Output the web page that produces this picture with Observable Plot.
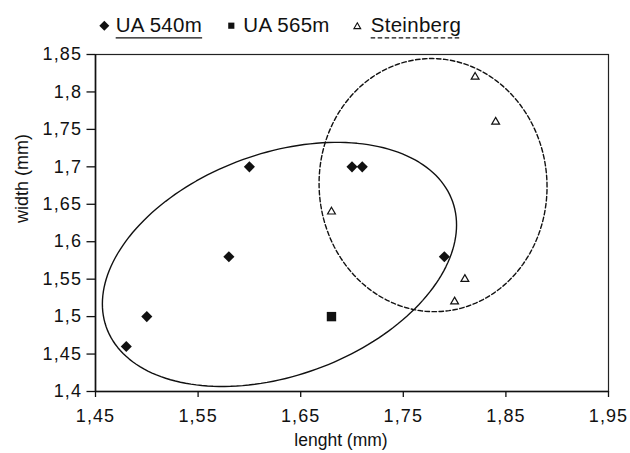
<!DOCTYPE html>
<html>
<head>
<meta charset="utf-8">
<script src="https://cdn.jsdelivr.net/npm/d3@7"></script>
<script src="https://cdn.jsdelivr.net/npm/@observablehq/plot@0.6"></script>
<style>
  html, body { margin: 0; padding: 0; background: #fff; }
  #wrap { position: relative; width: 630px; height: 453px; font-family: "Liberation Sans", Arial, Helvetica, sans-serif; }
  #legend { position: relative; width: 630px; height: 40px; }
  #chart svg { display: block; }
  #chart g[aria-label="x-axis tick label"], #chart g[aria-label="y-axis tick label"] { font-size: 18px !important; }
  #chart g[aria-label="x-axis tick label"] text, #chart g[aria-label="y-axis tick label"] text { letter-spacing: 1.1px; font-size: 18px !important; }
</style>
</head>
<body>
<div id="wrap">
  <div id="legend"></div>
  <div id="chart"></div>
</div>
<script>
// ---- data ----
const ua540Length = [1.48, 1.50, 1.58, 1.60, 1.70, 1.71, 1.79];
const ua540Width  = [1.46, 1.50, 1.58, 1.70, 1.70, 1.70, 1.58];
const ua565Length = [1.68];
const ua565Width  = [1.50];
const steinLength = [1.68, 1.82, 1.84, 1.81, 1.80];
const steinWidth  = [1.64, 1.82, 1.76, 1.55, 1.52];
const seriesNames = ["UA 540m", "UA 565m", "Steinberg"];
const xTicks = [1.45, 1.55, 1.65, 1.75, 1.85, 1.95];
const yTicks = [1.4, 1.45, 1.5, 1.55, 1.6, 1.65, 1.7, 1.75, 1.8, 1.85];
const xTitle = "lenght (mm)";
const yTitle = "width (mm)";
// grouping ellipses: center, conjugate semi-axes (data units)
const ellipseSolid  = {cx: 1.6293, cy: 1.5697, ux: 0.1726, uy: 0.0527, vx: 0, vy: 0.1542};
const ellipseDashed = {cx: 1.779, cy: 1.6756, ux: 0.1111, uy: -0.0022, vx: 0, vy: 0.1690};

const ua540 = ua540Length.map((x, i) => ({x, y: ua540Width[i]}));
const ua565 = ua565Length.map((x, i) => ({x, y: ua565Width[i]}));
const stein = steinLength.map((x, i) => ({x, y: steinWidth[i]}));

function ellipsePoints(e) {
  const n = 180;
  return d3.range(n + 1).map(k => {
    const t = 2 * Math.PI * k / n;
    return {x: e.cx + e.ux * Math.cos(t) + e.vx * Math.sin(t),
            y: e.cy + e.uy * Math.cos(t) + e.vy * Math.sin(t)};
  });
}
const fmt = d => d.toFixed(2).replace(/0$/, "").replace(".", ",");

const chart = Plot.plot({
  width: 630,
  height: 413,
  marginLeft: 95,
  marginRight: 22,
  marginTop: 14,
  marginBottom: 62,
  style: {fontFamily: '"Liberation Sans", Arial, Helvetica, sans-serif', fontSize: "18px", color: "#111", background: "#fff"},
  x: {domain: [1.45, 1.95]},
  y: {domain: [1.4, 1.85]},
  marks: [
    Plot.frame({stroke: "#222", strokeWidth: 1.2}),
    Plot.ruleX([1.45], {stroke: "#111", strokeWidth: 1.6}),
    Plot.ruleY([1.4], {stroke: "#111", strokeWidth: 1.6}),
    Plot.axisX({ticks: xTicks, tickFormat: fmt, tickSize: 6, tickPadding: 12, label: null, strokeWidth: 1.3, fontSize: 18}),
    Plot.axisY({ticks: yTicks, tickFormat: fmt, tickSize: 8.5, tickPadding: 5, label: null, strokeWidth: 1.3, fontSize: 18}),
    Plot.text([xTitle], {frameAnchor: "bottom", text: d => d, lineAnchor: "top", dy: 42, dx: -11, fontSize: 17.5, fill: "#111"}),
    Plot.text([yTitle], {frameAnchor: "left", text: d => d, rotate: -90, lineAnchor: "top", dx: -80, fontSize: 18, fill: "#111", style: {letterSpacing: "0.8px"}}),
    Plot.line(ellipsePoints(ellipseSolid), {x: "x", y: "y", stroke: "#111", strokeWidth: 1.4}),
    Plot.line(ellipsePoints(ellipseDashed), {x: "x", y: "y", stroke: "#111", strokeWidth: 1.4, strokeDasharray: "4.5,2.5"}),
    Plot.dot(ua540, {x: "x", y: "y", symbol: "diamond2", r: 5, fill: "#111"}),
    Plot.dot(ua565, {x: "x", y: "y", symbol: "square", r: 5.3, fill: "#111"}),
    Plot.dot(stein, {x: "x", y: "y", symbol: "triangle", r: 2.9, fill: "#fff", stroke: "#111", strokeWidth: 1.2})
  ]
});
document.getElementById("chart").appendChild(chart);

// ---- legend ----
const lg = d3.select("#legend").append("svg").attr("width", 630).attr("height", 40)
  .style("font-family", '"Liberation Sans", Arial, Helvetica, sans-serif');
const items = [
  {sym: d3.symbolDiamond2, size: 64, cx: 104.3, cy: 25.7, fill: "#111", stroke: "none", tx: 115.7, line: "solid"},
  {sym: d3.symbolSquare, size: 38, cx: 231.3, cy: 25.7, fill: "#111", stroke: "none", tx: 243.3, line: null},
  {sym: d3.symbolTriangle, size: 20, cx: 357.3, cy: 26.7, fill: "#fff", stroke: "#111", tx: 370.7, line: "dashed"}
];
items.forEach((it, i) => {
  lg.append("path").attr("d", d3.symbol(it.sym, it.size)())
    .attr("transform", `translate(${it.cx},${it.cy})`)
    .attr("fill", it.fill).attr("stroke", it.stroke).attr("stroke-width", 1.1);
  const t = lg.append("text").attr("x", it.tx).attr("y", 32.3).attr("font-size", 20.5)
    .attr("fill", "#111").style("letter-spacing", "0.3px").text(seriesNames[i]);
  if (it.line) {
    const w = t.node().getComputedTextLength();
    lg.append("line").attr("x1", it.tx).attr("x2", it.tx + w).attr("y1", 37.8).attr("y2", 37.8)
      .attr("stroke", "#111").attr("stroke-width", 1.3)
      .attr("stroke-dasharray", it.line === "dashed" ? "4.5,2.5" : null);
  }
});
</script>
</body>
</html>
